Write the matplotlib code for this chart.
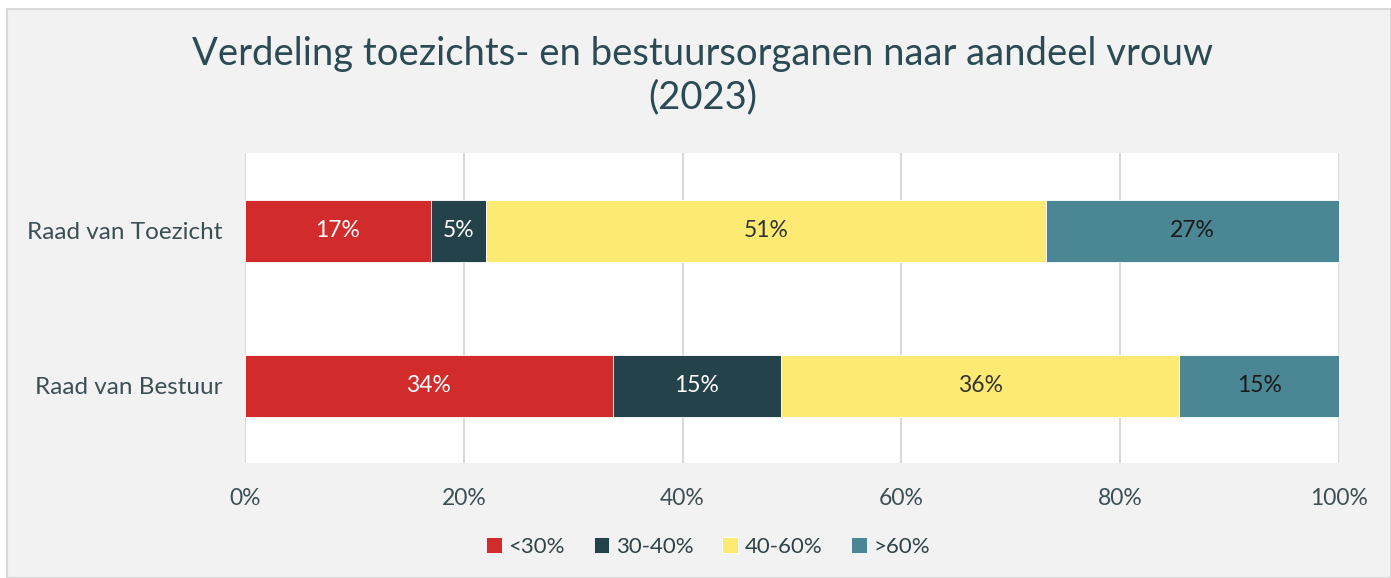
import numpy as np
import matplotlib.pyplot as plt
from matplotlib.patches import Rectangle

plt.rcParams['font.family'] = ['Lato', 'DejaVu Sans']

# Data
organen = ['Raad van Toezicht', 'Raad van Bestuur']
klassen = ['<30%', '30-40%', '40-60%', '>60%']
aandelen = {
    '<30%': [17.0, 33.6],
    '30-40%': [5.0, 15.4],
    '40-60%': [51.2, 36.4],
    '>60%': [26.8, 14.6],
}
kleuren = ['#D22B2B', '#24424A', '#FDEA73', '#4A8694']
tekstkleuren = ['white', 'white', '#333333', '#1a1a1a']
xticks = [0, 20, 40, 60, 80, 100]

titel_kleur = '#2B4A53'
bg = '#F2F2F2'

fig = plt.figure(figsize=(13.91, 5.78), dpi=100)
fig.patch.set_facecolor('white')
# grey chart area with thin border
fig.patches.append(Rectangle((7 / 1391, 0), 1 - 7 / 1391, 1 - 9 / 578,
                             transform=fig.transFigure, facecolor=bg,
                             edgecolor='#D9D9D9', linewidth=1.5, zorder=-1))

ax = fig.add_axes([245 / 1391, 1 - 463 / 578, 1094 / 1391, 310 / 578])
ax.set_facecolor('white')

y = np.arange(len(organen))
left = np.zeros(len(organen))
for i, k in enumerate(klassen):
    vals = np.array(aandelen[k])
    bars = ax.barh(y, vals, left=left, height=0.40, color=kleuren[i],
                   edgecolor='white', linewidth=0.6, label=k, zorder=3)
    for b, v in zip(bars, vals):
        ax.text(b.get_x() + b.get_width() / 2, b.get_y() + b.get_height() / 2,
                '%.0f%%' % v, ha='center', va='center', fontsize=16.5,
                color=tekstkleuren[i], zorder=4)
    left += vals

ax.set_xlim(0, 100)
ax.set_ylim(1.5, -0.5)
ax.set_xticks(xticks)
ax.set_xticklabels(['%d%%' % t for t in xticks], fontsize=16.5)
ax.set_yticks(y)
ax.set_yticklabels(organen, fontsize=17.5)
ax.tick_params(axis='both', length=0, colors='#3B4F55')
ax.tick_params(axis='x', pad=18)
ax.tick_params(axis='y', pad=16)
ax.grid(axis='x', color='#D9D9D9', linewidth=1.5, zorder=0)
for s in ax.spines.values():
    s.set_visible(False)

fig.text(703 / 1391, 1 - 76 / 578,
         'Verdeling toezichts- en bestuursorganen naar aandeel vrouw\n(2023)',
         ha='center', va='center', fontsize=27.5, color=titel_kleur,
         linespacing=1.25)

fig.legend(loc='center', bbox_to_anchor=(708 / 1391, 1 - 547 / 578), ncol=4,
           frameon=False, prop={'size': 16},
           handlelength=0.7, handleheight=0.7,
           handletextpad=0.3, columnspacing=1.3, labelcolor='#2E4248')

fig.savefig('out.png', dpi=100, facecolor=fig.get_facecolor())
